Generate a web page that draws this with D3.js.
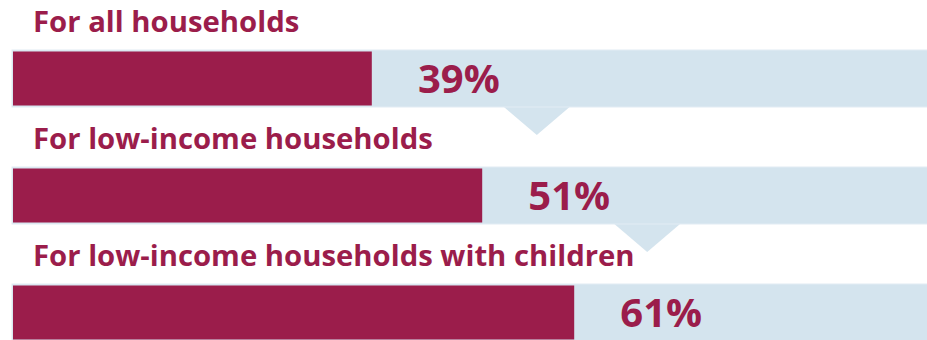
<!DOCTYPE html>
<html>
<head>
<meta charset="utf-8">
<script src="https://cdn.jsdelivr.net/npm/d3@7/dist/d3.min.js"></script>
<style>
  html, body { margin: 0; padding: 0; background: #ffffff; }
  svg { display: block; }
  text { font-family: "Open Sans", "Noto Sans", sans-serif; font-weight: 700; }
</style>
</head>
<body>
<div id="chart"></div>
<script>
// Share of households, by group (percent)
const categories = [
  "For all households",
  "For low-income households",
  "For low-income households with children"
];
const values = [39, 51, 61];
const valueLabels = ["39%", "51%", "61%"];

const width = 927, height = 340;
const red = "#9b1d4b";
const track = "#d4e4ee";

const svg = d3.select("#chart").append("svg")
  .attr("width", width)
  .attr("height", height);

// Horizontal value scale: the full track is 100%
const x = d3.scaleLinear().domain([0, 100]).range([13, 933]);

// Vertical placement of each row's bar
const y = d3.scalePoint().domain(categories).range([50, 284]);
const barH = 57;

const rows = svg.selectAll("g.row")
  .data(categories.map((c, i) => ({ cat: c, value: values[i], label: valueLabels[i], i })))
  .join("g")
  .attr("class", "row");

// Pointer triangles under the tracks (drawn first so they sit behind)
rows.filter(d => d.i < categories.length - 1)
  .append("path")
  .attr("fill", track)
  .attr("d", d => {
    const cx = x(d.value) + 165;
    const top = y(d.cat) + barH - 1;
    return `M${cx - 34},${top} L${cx + 34},${top} L${cx},${top + 29} Z`;
  });

// Background track
rows.append("rect")
  .attr("x", x(0) - 1)
  .attr("y", d => y(d.cat))
  .attr("width", x(100) - x(0) + 1)
  .attr("height", barH)
  .attr("fill", track)
  .attr("stroke", "#e2ecf4")
  .attr("stroke-width", 1);

// Value bar
rows.append("rect")
  .attr("x", x(0))
  .attr("y", d => y(d.cat) + 1.5)
  .attr("width", d => x(d.value) - x(0))
  .attr("height", barH - 3)
  .attr("fill", red);

// Category titles
rows.append("text")
  .attr("x", 33)
  .attr("y", d => y(d.cat) - 18)
  .attr("fill", red)
  .attr("font-size", 29.3)
  .text(d => d.cat);

// Value labels, centred between the bar end and the pointer
rows.append("text")
  .attr("x", d => x(d.value) + 87)
  .attr("y", d => y(d.cat) + 43)
  .attr("text-anchor", "middle")
  .attr("fill", red)
  .attr("font-size", 40)
  .text(d => d.label);
</script>
</body>
</html>
